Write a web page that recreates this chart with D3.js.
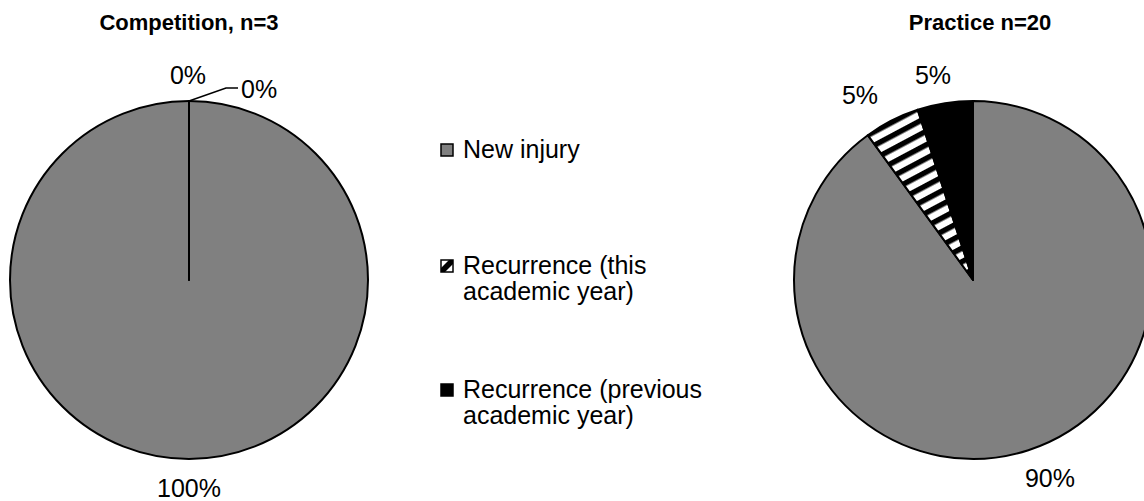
<!DOCTYPE html>
<html>
<head>
<meta charset="utf-8">
<script src="https://cdn.jsdelivr.net/npm/d3@7"></script>
<style>
  body { margin: 0; background: #fff; }
  svg { display: block; font-family: Arial, "Liberation Sans", sans-serif; }
</style>
</head>
<body>
<svg id="chart"></svg>
<script>
// data
var categories = ["New injury", "Recurrence (this academic year)", "Recurrence (previous academic year)"];
var legendLines = [["New injury"], ["Recurrence (this", "academic year)"], ["Recurrence (previous", "academic year)"]];
var competitionValues = [100, 0, 0];
var practiceValues = [90, 5, 5];
var chartTitles = ["Competition, n=3", "Practice n=20"];

var width = 1144,
    height = 501;

var svg = d3.select("#chart")
    .attr("width", width)
    .attr("height", height);

var defs = svg.append("defs");

// diagonal stripes for the "this year" slice
defs.append("pattern")
    .attr("id", "stripes")
    .attr("patternUnits", "userSpaceOnUse")
    .attr("width", 12)
    .attr("height", 12)
    .attr("patternTransform", "rotate(-28)")
  .call(function(p) {
    p.append("rect").attr("width", 12).attr("height", 12).attr("fill", "#fff");
    p.append("rect").attr("width", 12).attr("height", 5.5).attr("fill", "#000");
  });

var fills = ["#808080", "url(#stripes)", "#000"];

var radius = 179;
var pie = d3.pie().sort(null).value(function(d) { return d; });
var arc = d3.arc().innerRadius(0).outerRadius(radius);

// one group per pie
function drawPie(values, cx, cy, title, titleX) {
  var g = svg.append("g").attr("transform", "translate(" + cx + "," + cy + ")");

  g.selectAll("path")
    .data(pie(values))
    .enter()
    .append("path")
    .attr("d", arc)
    .attr("fill", function(d, i) { return fills[i]; })
    .attr("stroke", "#000")
    .attr("stroke-width", 2)
    .attr("stroke-linejoin", "round");

  svg.append("text")
    .attr("x", titleX)
    .attr("y", 30)
    .attr("text-anchor", "middle")
    .style("font-size", "22px")
    .style("font-weight", "bold")
    .text(title);

  return g;
}

var left = drawPie(competitionValues, 189, 280, chartTitles[0], 189);
var right = drawPie(practiceValues, 973, 280, chartTitles[1], 980);

function pct(v) { return v + "%"; }

var fontSize = 25;

// labels for competition pie
var labelStyle = function(sel) {
  sel.attr("text-anchor", "middle").style("font-size", fontSize + "px").attr("fill", "#000");
};

left.append("text").call(labelStyle)
  .attr("x", 0).attr("y", 217)
  .text(pct(competitionValues[0]));
left.append("text").call(labelStyle)
  .attr("x", -1).attr("y", -196)
  .text(pct(competitionValues[1]));
left.append("polyline")
  .attr("points", "0,-179 37,-192 49,-192")
  .attr("fill", "none")
  .attr("stroke", "#000")
  .attr("stroke-width", 1.5);
left.append("text").call(labelStyle)
  .attr("text-anchor", "start")
  .attr("x", 52).attr("y", -182)
  .text(pct(competitionValues[2]));

// labels for practice pie
right.append("text").call(labelStyle)
  .attr("x", 77).attr("y", 207)
  .text(pct(practiceValues[0]));
right.append("text").call(labelStyle)
  .attr("x", -113).attr("y", -176)
  .text(pct(practiceValues[1]));
right.append("text").call(labelStyle)
  .attr("x", -40).attr("y", -196)
  .text(pct(practiceValues[2]));

// legend
var legend = svg.append("g").attr("transform", "translate(441,0)");
var legendY = [150, 266, 390];

var items = legend.selectAll("g.item")
  .data(categories)
  .enter()
  .append("g")
  .attr("class", "item")
  .attr("transform", function(d, i) { return "translate(0," + legendY[i] + ")"; });

items.append("rect")
  .attr("x", 0).attr("y", -6)
  .attr("width", 12).attr("height", 12)
  .attr("fill", function(d, i) { return i == 1 ? "#fff" : fills[i]; })
  .attr("stroke", "#000")
  .attr("stroke-width", 1.5);

// hatched swatch: diagonal band
items.filter(function(d, i) { return i == 1; })
  .append("path")
  .attr("d", "M0,6 L0,2 L8,-6 L12,-6 L12,-2 L4,6 Z")
  .attr("fill", "#000");

items.append("text")
  .attr("x", 22)
  .attr("y", 8)
  .style("font-size", fontSize + "px")
  .selectAll("tspan")
  .data(function(d, i) { return legendLines[i]; })
  .enter()
  .append("tspan")
  .attr("x", 22)
  .attr("dy", function(d, j) { return j == 0 ? 0 : 26; })
  .text(function(d) { return d; });
</script>
</body>
</html>
